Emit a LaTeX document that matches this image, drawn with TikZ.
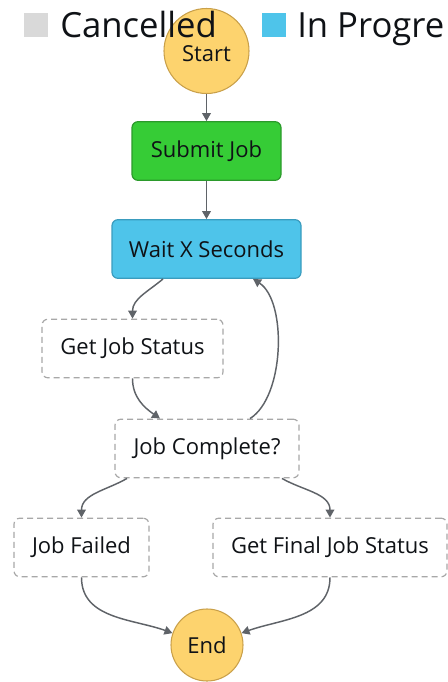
\documentclass[tikz,border=0pt]{standalone}
\usepackage{fontspec}
\setmainfont{Open Sans}
\usepackage{tikz}
\usetikzlibrary{arrows.meta,positioning}
\definecolor{ink}{HTML}{0F1216}
\definecolor{wire}{HTML}{5F6368}
\definecolor{gold}{HTML}{FDD36E}
\definecolor{goldline}{HTML}{C9A04A}
\definecolor{go}{HTML}{36CC36}
\definecolor{goline}{HTML}{2B9A2B}
\definecolor{sky}{HTML}{4EC4EA}
\definecolor{skyline}{HTML}{3A9CBE}
\definecolor{dashgrey}{HTML}{A8A8A8}
\definecolor{chipgrey}{HTML}{D9D9D9}

\begin{document}
\begin{tikzpicture}[
  x=0.75pt,y=-0.75pt,
  state/.style={rounded corners=4.5pt,inner sep=0pt,minimum height=44pt,line width=0.9pt,font=\fontsize{16.5}{19}\selectfont,text=ink},
  done/.style={state,draw=goline,fill=go},
  busy/.style={state,draw=skyline,fill=sky},
  idle/.style={state,draw=dashgrey,fill=white,dash pattern=on 4.5pt off 3pt},
  term/.style={circle,draw=goldline,fill=gold,inner sep=0pt,line width=0.8pt,font=\fontsize{16.5}{19}\selectfont,text=ink},
  chip/.style={inner sep=0pt,minimum size=18pt},
  legend/.style={inner sep=0pt,anchor=base west,font=\fontsize{26}{30}\selectfont,text=ink},
  arrow/.style={-{Triangle[length=6pt,width=6.5pt]},line width=1.1pt,draw=wire}
]
\useasboundingbox (0,0) rectangle (447,682);
\node[term,minimum size=63.75pt,text height=16pt,text depth=0pt] (start) at (206.5,51) {Start};
\node[done,minimum width=111.75pt] (submit) at (206.5,151) {Submit Job};
\node[busy,minimum width=141.75pt] (wait) at (206.5,249) {Wait X Seconds};
\node[idle,minimum width=135.75pt] (status) at (132.5,348.5) {Get Job Status};
\node[idle,minimum width=138pt] (complete) at (207,448.5) {Job Complete?};
\node[idle,minimum width=101.25pt] (failed) at (81.5,547.5) {Job Failed};
\node[idle,minimum width=175.5pt] (final) at (330,547.5) {Get Final Job Status};
\node[term,minimum size=54pt] (end) at (207,645) {End};

\draw[arrow] (start)--(submit);
\draw[arrow] (submit)--(wait);
\draw[arrow] ([xshift=-32.6pt]wait.south) to[out=-140,in=90] (status.north);
\draw[arrow] (status.south) to[out=-90,in=145] ([xshift=-35.25pt]complete.north);
\draw[arrow] ([xshift=32.25pt]complete.north) .. controls +(35,-22) and +(34,22) .. ([xshift=34.9pt]wait.south);
\draw[arrow] ([xshift=-60pt]complete.south) to[out=-150,in=90] (failed.north);
\draw[arrow] ([xshift=56.25pt]complete.south) to[out=-30,in=90] (final.north);
\draw[arrow] (failed.south) to[out=-90,in=160] (end.161);
\draw[arrow] (final.south) to[out=-90,in=20] (end.19);

% legend on top
\node[chip,fill=chipgrey] (cancelchip) at (35.5,25) {};
\node[legend] (cancelled) at (60,37) {Cancelled};
\node[chip,fill=sky] (progresschip) at (273.5,25) {};
\node[legend] (progress) at (297,37) {In Progre};
\end{tikzpicture}
\end{document}
